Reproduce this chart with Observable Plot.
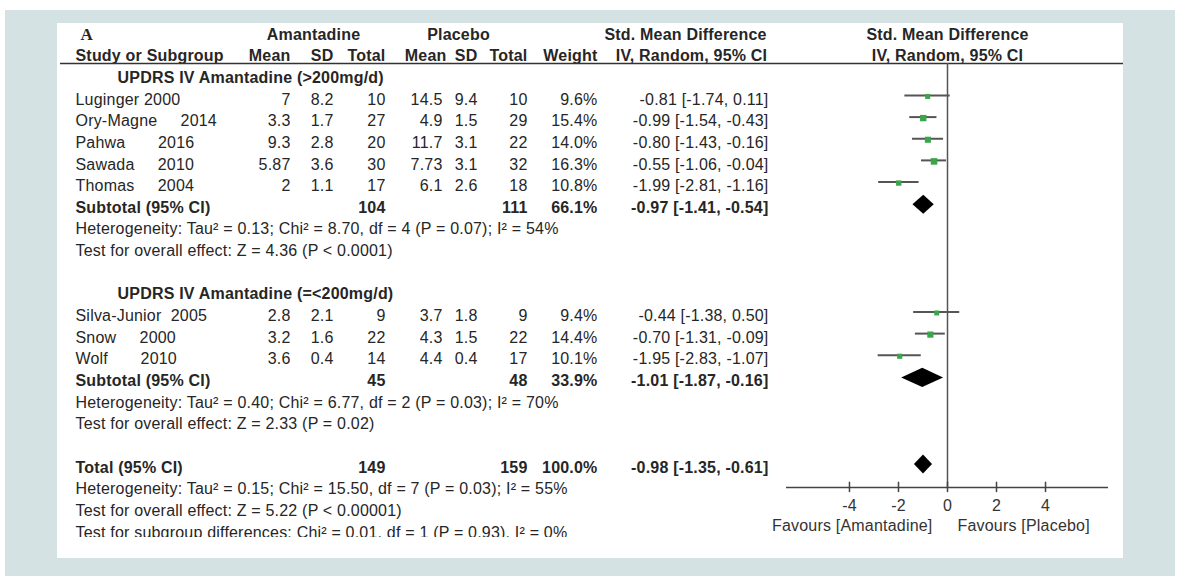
<!DOCTYPE html>
<html>
<head>
<meta charset="utf-8">
<script src="https://cdn.jsdelivr.net/npm/d3@7"></script>
<script src="https://cdn.jsdelivr.net/npm/@observablehq/plot@0.6"></script>
<style>
  html, body { margin: 0; padding: 0; background: #ffffff; overflow: hidden; }
  #wrap { position: relative; width: 1184px; height: 576px; }
  #band { position: absolute; left: 5px; top: 10px; width: 1170px; height: 566px; background: #d4e2e3; }
  #panel { position: absolute; left: 57px; top: 23px; width: 1066px; height: 535px; background: #ffffff; }
  #chart { position: absolute; left: 0; top: 0; }
</style>
</head>
<body>
<div id="wrap">
  <div id="band"></div>
  <div id="panel"></div>
  <div id="chart"></div>
</div>
<script>
// ---------------- data ----------------
const group1Title = "UPDRS IV Amantadine (>200mg/d)";
const group1Names = ["Luginger 2000", "Ory-Magne     2014", "Pahwa       2016", "Sawada     2010", "Thomas     2004"];
const group1AmMean = [7, 3.3, 9.3, 5.87, 2];
const group1AmSD = [8.2, 1.7, 2.8, 3.6, 1.1];
const group1AmN = [10, 27, 20, 30, 17];
const group1PlMean = [14.5, 4.9, 11.7, 7.73, 6.1];
const group1PlSD = [9.4, 1.5, 3.1, 3.1, 2.6];
const group1PlN = [10, 29, 22, 32, 18];
const group1Weight = [9.6, 15.4, 14.0, 16.3, 10.8];
const group1SMD = [-0.81, -0.99, -0.80, -0.55, -1.99];
const group1Lo = [-1.74, -1.54, -1.43, -1.06, -2.81];
const group1Hi = [0.11, -0.43, -0.16, -0.04, -1.16];

const group2Title = "UPDRS IV Amantadine (=<200mg/d)";
const group2Names = ["Silva-Junior  2005", "Snow     2000", "Wolf       2010"];
const group2AmMean = [2.8, 3.2, 3.6];
const group2AmSD = [2.1, 1.6, 0.4];
const group2AmN = [9, 22, 14];
const group2PlMean = [3.7, 4.3, 4.4];
const group2PlSD = [1.8, 1.5, 0.4];
const group2PlN = [9, 22, 17];
const group2Weight = [9.4, 14.4, 10.1];
const group2SMD = [-0.44, -0.70, -1.95];
const group2Lo = [-1.38, -1.31, -2.83];
const group2Hi = [0.50, -0.09, -1.07];

// summaries: subtotal 1, subtotal 2, total
const summaryLabels = ["Subtotal (95% CI)", "Subtotal (95% CI)", "Total (95% CI)"];
const summaryAmN = [104, 45, 149];
const summaryPlN = [111, 48, 159];
const summaryWeight = [66.1, 33.9, 100.0];
const summarySMD = [-0.97, -1.01, -0.98];
const summaryLo = [-1.41, -1.87, -1.35];
const summaryHi = [-0.54, -0.16, -0.61];

const heterogeneityNotes = [
  "Heterogeneity: Tau\u00b2 = 0.13; Chi\u00b2 = 8.70, df = 4 (P = 0.07); I\u00b2 = 54%",
  "Heterogeneity: Tau\u00b2 = 0.40; Chi\u00b2 = 6.77, df = 2 (P = 0.03); I\u00b2 = 70%",
  "Heterogeneity: Tau\u00b2 = 0.15; Chi\u00b2 = 15.50, df = 7 (P = 0.03); I\u00b2 = 55%"
];
const effectNotes = [
  "Test for overall effect: Z = 4.36 (P < 0.0001)",
  "Test for overall effect: Z = 2.33 (P = 0.02)",
  "Test for overall effect: Z = 5.22 (P < 0.00001)"
];
const subgroupNote = "Test for subgroup differences: Chi\u00b2 = 0.01, df = 1 (P = 0.93), I\u00b2 = 0%";

const axisTicks = [-4, -2, 0, 2, 4];
const axisDomain = [-6.57, 6.57];
const favoursLeft = "Favours [Amantadine]";
const favoursRight = "Favours [Placebo]";

// ---------------- layout ----------------
const W = 1184, H = 576;
const ML = 60, MR = 61, MT = 23, MB = 39;
const rowTop = 34, rowStep = 21.65, nRows = 23;
const headerLineRow = 1.34;
const axisRow = 20.92;
const font = "'Liberation Sans', Arial, Helvetica, sans-serif";
const ink = "#262626";
const FS = 16;

// build table rows
const studies = [];
const summaries = [];
const notes = [];
const titles = [];
function addGroup(startRow, title, names, amM, amS, amN, plM, plS, plN, w, smd, lo, hi) {
  titles.push({row: startRow, text: title});
  names.forEach((n, i) => {
    studies.push({
      row: startRow + 1 + i, label: n,
      amMean: String(amM[i]), amSD: String(amS[i]), amN: String(amN[i]),
      plMean: String(plM[i]), plSD: String(plS[i]), plN: String(plN[i]),
      weight: w[i].toFixed(1) + "%", w: w[i],
      ci: `${smd[i].toFixed(2)} [${lo[i].toFixed(2)}, ${hi[i].toFixed(2)}]`,
      smd: smd[i], lo: lo[i], hi: hi[i]
    });
  });
  return startRow + 1 + names.length;
}
const sub1Row = addGroup(2, group1Title, group1Names, group1AmMean, group1AmSD, group1AmN, group1PlMean, group1PlSD, group1PlN, group1Weight, group1SMD, group1Lo, group1Hi);
const sub2Row = addGroup(sub1Row + 4, group2Title, group2Names, group2AmMean, group2AmSD, group2AmN, group2PlMean, group2PlSD, group2PlN, group2Weight, group2SMD, group2Lo, group2Hi);
const totalRow = sub2Row + 4;
[sub1Row, sub2Row, totalRow].forEach((row, i) => {
  summaries.push({
    row, label: summaryLabels[i], amN: String(summaryAmN[i]), plN: String(summaryPlN[i]),
    weight: summaryWeight[i].toFixed(1) + "%",
    ci: `${summarySMD[i].toFixed(2)} [${summaryLo[i].toFixed(2)}, ${summaryHi[i].toFixed(2)}]`,
    smd: summarySMD[i], lo: summaryLo[i], hi: summaryHi[i]
  });
  notes.push({row: row + 1, text: heterogeneityNotes[i]});
  notes.push({row: row + 2, text: effectNotes[i]});
});
notes.push({row: totalRow + 3, text: subgroupNote});

// diamonds
const diamondPts = [];
summaries.forEach((s, i) => {
  diamondPts.push({z: i, y: s.row - 0.44, x1: s.smd, x2: s.smd});
  diamondPts.push({z: i, y: s.row, x1: s.lo, x2: s.hi});
  diamondPts.push({z: i, y: s.row + 0.44, x1: s.smd, x2: s.smd});
});

// columns (page x of right edge)
const numCols = [
  {key: "amMean", x: 290}, {key: "amSD", x: 333}, {key: "amN", x: 385},
  {key: "plMean", x: 442}, {key: "plSD", x: 477}, {key: "plN", x: 527},
  {key: "weight", x: 597}, {key: "ci", x: 768}
];
const headerRow0 = [
  {text: "Amantadine", x: 313}, {text: "Placebo", x: 458},
  {text: "Std. Mean Difference", x: 685}, {text: "Std. Mean Difference", x: 947}
];
const headerRow1 = [
  {text: "Mean", x: 290, a: "end"}, {text: "SD", x: 333, a: "end"}, {text: "Total", x: 385, a: "end"},
  {text: "Mean", x: 446, a: "end"}, {text: "SD", x: 477, a: "end"}, {text: "Total", x: 527, a: "end"},
  {text: "Weight", x: 597, a: "end"}, {text: "IV, Random, 95% CI", x: 691, a: "middle"},
  {text: "IV, Random, 95% CI", x: 947, a: "middle"}
];

const txt = (data, opts) => Plot.text(data, Object.assign({
  y: "row", frameAnchor: "left", fill: ink, fontSize: FS, clip: true, lineAnchor: "middle"
}, opts));

const marks = [];
// header
marks.push(Plot.text([{row: 0, t: "A"}], {y: "row", text: "t", frameAnchor: "left", dx: 80 - ML, fill: ink, fontSize: 17, fontWeight: "bold", fontFamily: "'Liberation Serif', 'Times New Roman', serif"}));
headerRow0.forEach(h => marks.push(txt([{row: 0, t: h.text}], {text: "t", dx: h.x - ML, textAnchor: "middle", fontWeight: "bold"})));
marks.push(txt([{row: 1, t: "Study or Subgroup"}], {text: "t", dx: 75 - ML, textAnchor: "start", fontWeight: "bold"}));
headerRow1.forEach(h => marks.push(txt([{row: 1, t: h.text}], {text: "t", dx: h.x - ML, textAnchor: h.a, fontWeight: "bold"})));
marks.push(Plot.ruleY([headerLineRow], {stroke: "#333", strokeWidth: 1.5}));

// group titles
marks.push(txt(titles, {text: "text", dx: 117 - ML, textAnchor: "start", fontWeight: "bold"}));
// studies
marks.push(txt(studies, {text: "label", dx: 75 - ML, textAnchor: "start"}));
numCols.forEach(c => marks.push(txt(studies, {text: c.key, dx: c.x - ML, textAnchor: "end"})));
// summaries
marks.push(txt(summaries, {text: "label", dx: 75 - ML, textAnchor: "start", fontWeight: "bold"}));
numCols.filter(c => ["amN", "plN", "weight", "ci"].includes(c.key))
  .forEach(c => marks.push(txt(summaries, {text: c.key, dx: c.x - ML, textAnchor: "end", fontWeight: "bold"})));
// notes
marks.push(txt(notes, {text: "text", dx: 75 - ML, textAnchor: "start"}));

// forest
marks.push(Plot.ruleX([0], {y1: headerLineRow, y2: axisRow, stroke: "#555", strokeWidth: 1.5}));
marks.push(Plot.ruleY(studies, {y: "row", x1: "lo", x2: "hi", stroke: "#555", strokeWidth: 2, dy: -4}));
marks.push(Plot.dot(studies, {x: "smd", y: "row", r: "w", symbol: "square", fill: "#3aa64a", stroke: "none", dy: -3}));
marks.push(Plot.areaX(diamondPts, {y: "y", x1: "x1", x2: "x2", z: "z", fill: "#000", curve: "linear", dy: -3}));

// axis
marks.push(Plot.ruleY([axisRow], {x1: axisDomain[0], x2: axisDomain[1], stroke: "#444", strokeWidth: 1.5}));
marks.push(Plot.ruleX(axisTicks, {x: d => d, y1: axisRow - 0.24, y2: axisRow + 0.24, stroke: "#444", strokeWidth: 1.5}));
marks.push(Plot.text(axisTicks, {x: d => d, y: () => axisRow, dy: 18, text: d => String(d), fill: "#333", fontSize: FS}));
marks.push(Plot.text([favoursLeft], {x: () => 0, y: () => axisRow, dy: 38, dx: -15, text: d => d, textAnchor: "end", fill: "#333", fontSize: FS, letterSpacing: "0px"}));
marks.push(Plot.text([favoursRight], {x: () => 0, y: () => axisRow, dy: 38, dx: 10, text: d => d, textAnchor: "start", fill: "#333", fontSize: FS}));

const chart = Plot.plot({
  width: W, height: H,
  marginLeft: ML, marginRight: MR, marginTop: MT, marginBottom: MB,
  x: {domain: axisDomain, range: [786, 1108], axis: null},
  y: {domain: [0, nRows], range: [rowTop, rowTop + nRows * rowStep], axis: null},
  r: {type: "sqrt", domain: [0, 16.3], range: [0, 3.7]},
  style: {background: "transparent", fontFamily: font, whiteSpace: "pre", maxWidth: "none", overflow: "visible", letterSpacing: "0.2px"},
  marks
});
document.getElementById("chart").appendChild(chart);
</script>
</body>
</html>
